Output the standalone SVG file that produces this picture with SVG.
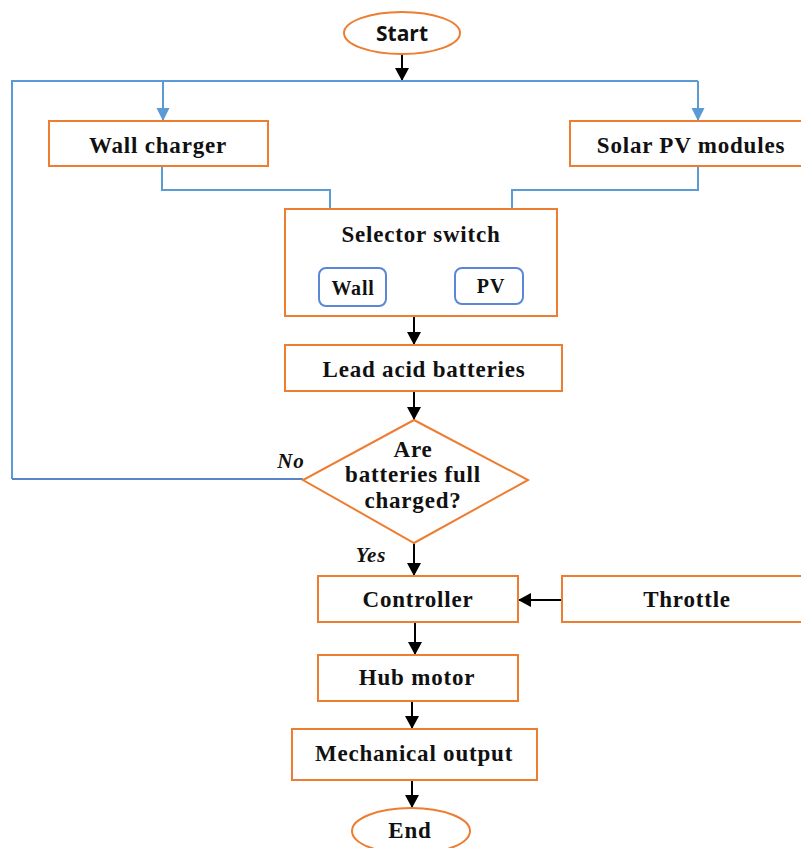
<svg xmlns="http://www.w3.org/2000/svg" width="801" height="848" viewBox="0 0 801 848">
<defs>
<style>
.box{fill:#fff;stroke:#ED7D31;stroke-width:2}
.sw{fill:#fff;stroke:#5B87D6;stroke-width:2}
.t{font-family:"Liberation Serif","Times New Roman",serif;font-weight:bold;font-size:23px;letter-spacing:0.8px;fill:#111;text-anchor:middle}
.ts{font-size:20px}
.ti{font-style:italic;font-size:21px}
.sans{font-family:"Open Sans","Liberation Sans",sans-serif;font-weight:bold;font-size:21px;letter-spacing:0;fill:#111;text-anchor:middle}
.bl{fill:none;stroke:#5B9BD5;stroke-width:2}
.bk{fill:none;stroke:#000;stroke-width:2}
</style>
<marker id="ab" markerUnits="userSpaceOnUse" markerWidth="14" markerHeight="14" refX="13" refY="7" orient="auto">
<path d="M0,0 L13,7 L0,14 Z" fill="#000"/>
</marker>
<marker id="au" markerUnits="userSpaceOnUse" markerWidth="14" markerHeight="14" refX="13" refY="7" orient="auto">
<path d="M0,0.5 L13,7 L0,13.5 Z" fill="#5B9BD5"/>
</marker>
</defs>
<g id="connectors">
<line class="bk" x1="402" y1="54" x2="402" y2="81" marker-end="url(#ab)"/>
<polyline class="bl" points="12,479 12,81 698,81"/>
<line class="bl" x1="163" y1="81" x2="163" y2="121" marker-end="url(#au)"/>
<line class="bl" x1="698" y1="81" x2="698" y2="121" marker-end="url(#au)"/>
<line class="bl" x1="12" y1="479" x2="303" y2="479" style="stroke:#5A85C4"/>
<polyline class="bl" points="162,166 162,190 330,190 330,208"/>
<polyline class="bl" points="698,166 698,190 512,190 512,208"/>
<line class="bk" x1="414" y1="316" x2="414" y2="345" marker-end="url(#ab)"/>
<line class="bk" x1="414" y1="391" x2="414" y2="420" marker-end="url(#ab)"/>
<line class="bk" x1="414" y1="543" x2="414" y2="576" marker-end="url(#ab)"/>
<line class="bk" x1="562" y1="600" x2="518" y2="600" marker-end="url(#ab)"/>
<line class="bk" x1="415" y1="622" x2="415" y2="655" marker-end="url(#ab)"/>
<line class="bk" x1="412" y1="701" x2="412" y2="729" marker-end="url(#ab)"/>
<line class="bk" x1="412" y1="780" x2="412" y2="808" marker-end="url(#ab)"/>
<text class="t ti" x="291" y="468">No</text>
<text class="t ti" x="371" y="562">Yes</text>
</g>
<g id="start">
<ellipse class="box" cx="402" cy="33" rx="58" ry="21"/>
<text class="sans" x="402" y="41">Start</text>
</g>
<g id="wall-charger">
<rect class="box" x="49" y="121" width="219" height="45"/>
<text class="t" x="158" y="153">Wall charger</text>
</g>
<g id="solar-pv">
<rect class="box" x="570" y="121" width="240" height="45"/>
<text class="t" x="691" y="153">Solar PV modules</text>
</g>
<g id="selector-switch">
<rect class="box" x="285" y="209" width="272" height="107"/>
<text class="t" x="421" y="242">Selector switch</text>
<g id="sw-wall">
<rect class="sw" x="319" y="268" width="67" height="38" rx="7"/>
<text class="t ts" x="353" y="295">Wall</text>
</g>
<g id="sw-pv">
<rect class="sw" x="455" y="268" width="68" height="36" rx="7"/>
<text class="t ts" x="491" y="293">PV</text>
</g>
</g>
<g id="lead-acid">
<rect class="box" x="285" y="345" width="277" height="46"/>
<text class="t" x="424" y="377">Lead acid batteries</text>
</g>
<g id="decision">
<polygon class="box" points="414,420 528,480 414,543 303,480"/>
<text class="t" x="413" y="457">Are</text>
<text class="t" x="413" y="482">batteries full</text>
<text class="t" x="413" y="508">charged?</text>
</g>
<g id="controller">
<rect class="box" x="318" y="576" width="200" height="46"/>
<text class="t" x="418" y="607">Controller</text>
</g>
<g id="throttle">
<rect class="box" x="562" y="576" width="250" height="46"/>
<text class="t" x="687" y="607">Throttle</text>
</g>
<g id="hub-motor">
<rect class="box" x="318" y="655" width="200" height="46"/>
<text class="t" x="417" y="685">Hub motor</text>
</g>
<g id="mechanical-output">
<rect class="box" x="292" y="729" width="245" height="51"/>
<text class="t" x="414" y="761">Mechanical output</text>
</g>
<g id="end">
<ellipse class="box" cx="411" cy="831" rx="59" ry="23"/>
<text class="t" x="410" y="838">End</text>
</g>
</svg>
